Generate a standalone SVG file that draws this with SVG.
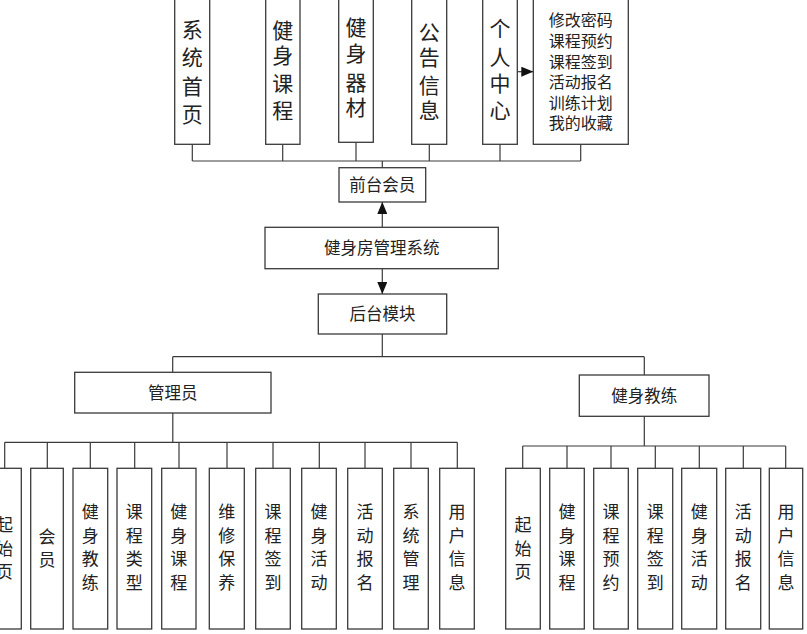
<svg xmlns="http://www.w3.org/2000/svg" width="807" height="634" viewBox="0 0 807 634">
<style>
.box{fill:#fff;stroke:#3a3a3a;stroke-width:1.3}
.ln{fill:none;stroke:#3a3a3a;stroke-width:1.2}
text{font-family:"Noto Sans CJK SC","Noto Sans",sans-serif;fill:#222;text-anchor:middle}
.big{font-size:21px}
.lst{font-size:16px}
.mid{font-size:16.5px}
.sm{font-size:17px}
</style>
<defs>
<marker id="ah" viewBox="0 0 12 10" refX="12" refY="5" markerWidth="12" markerHeight="10" markerUnits="userSpaceOnUse" orient="auto">
<path d="M0,0 L12,5 L0,10 Z" fill="#111"/>
</marker>
</defs>
<rect width="807" height="634" fill="#fff"/>

<g id="connectors">
<path class="ln" d="M192.3,144.3V161M282.7,144.3V161M356,142.3V161M429.3,144.3V161M500,144.3V161M580.7,144.3V161M192.3,161H580.7M382.3,161V167.7"/>
<path class="ln" d="M517.3,71.7H533.3" marker-end="url(#ah)"/>
<path class="ln" d="M382.3,227.3V202" marker-end="url(#ah)"/>
<path class="ln" d="M382.3,268.7V294" marker-end="url(#ah)"/>
<path class="ln" d="M382.3,334V356.7M172.7,356.7H644.3M172.7,356.7V372.3M644.3,356.7V375"/>
<path class="ln" d="M172.8,413V442.3M4.7,442.3H457.3M4.7,442.3V468.3M47.3,442.3V468.3M90.3,442.3V468.3M134.7,442.3V468.3M179,442.3V468.3M227,442.3V468.3M273,442.3V468.3M319.3,442.3V468.3M365,442.3V468.3M411,442.3V468.3M457.3,442.3V468.3"/>
<path class="ln" d="M644.3,416.3V446M522.7,446H785.7M522.7,446V468.3M567,446V468.3M611,446V468.3M655.3,446V468.3M699.3,446V468.3M743.3,446V468.3M785.7,446V468.3"/>
</g>

<g id="n-xtsy"><rect class="box" x="174.7" y="-10" width="35" height="154.3"/>
<text class="big"><tspan x="192.2" y="36.5">系</tspan><tspan x="192.2" y="65">统</tspan><tspan x="192.2" y="93.5">首</tspan><tspan x="192.2" y="122">页</tspan></text></g>
<g id="n-jskc"><rect class="box" x="265.7" y="-10" width="34.3" height="154.3"/>
<text class="big"><tspan x="282.8" y="37.5">健</tspan><tspan x="282.8" y="63">身</tspan><tspan x="282.8" y="90.5">课</tspan><tspan x="282.8" y="117.5">程</tspan></text></g>
<g id="n-jsqc"><rect class="box" x="338.7" y="-10" width="34.6" height="152.3"/>
<text class="big"><tspan x="356" y="34.5">健</tspan><tspan x="356" y="60.5">身</tspan><tspan x="356" y="89.5">器</tspan><tspan x="356" y="114.5">材</tspan></text></g>
<g id="n-ggxx"><rect class="box" x="411.7" y="-10" width="35" height="154.3"/>
<text class="big"><tspan x="429.2" y="39.5">公</tspan><tspan x="429.2" y="64.5">告</tspan><tspan x="429.2" y="92.5">信</tspan><tspan x="429.2" y="117.5">息</tspan></text></g>
<g id="n-grzx"><rect class="box" x="482.7" y="-10" width="34.6" height="154.3"/>
<text class="big"><tspan x="500" y="35.5">个</tspan><tspan x="500" y="64.5">人</tspan><tspan x="500" y="90.5">中</tspan><tspan x="500" y="117.5">心</tspan></text></g>
<g id="n-list"><rect class="box" x="533.3" y="-10" width="95" height="154.3"/>
<text class="lst"><tspan x="580.8" y="26">修改密码</tspan><tspan x="580.8" y="46.5">课程预约</tspan><tspan x="580.8" y="67.5">课程签到</tspan><tspan x="580.8" y="88">活动报名</tspan><tspan x="580.8" y="109">训练计划</tspan><tspan x="580.8" y="129">我的收藏</tspan></text></g>

<g id="n-qthy"><rect class="box" x="339" y="167.7" width="86.7" height="34.3"/><text class="mid" x="382.3" y="191">前台会员</text></g>
<g id="n-sys"><rect class="box" x="265" y="227.3" width="233.3" height="41.4"/><text class="mid" x="381.7" y="254">健身房管理系统</text></g>
<g id="n-htmk"><rect class="box" x="318.3" y="294" width="128.4" height="40"/><text class="mid" x="382.5" y="320">后台模块</text></g>
<g id="n-gly"><rect class="box" x="74.7" y="372.3" width="196.3" height="40.7"/><text class="mid" x="172.8" y="398.7">管理员</text></g>
<g id="n-jsjl"><rect class="box" x="579.3" y="375" width="129.7" height="41.3"/><text class="mid" x="644.2" y="401.7">健身教练</text></g>

<g id="a-qsy"><rect class="box" x="-12.5" y="468.3" width="33.8" height="160.7"/>
<text class="sm"><tspan x="4.4" y="531">起</tspan><tspan x="4.4" y="554.5">始</tspan><tspan x="4.4" y="578">页</tspan></text></g>
<g id="a-hy"><rect class="box" x="30.7" y="468.3" width="32.6" height="160.7"/>
<text class="sm"><tspan x="47" y="542.7">会</tspan><tspan x="47" y="566">员</tspan></text></g>
<g id="a-jsjl"><rect class="box" x="73" y="468.3" width="34.7" height="160.7"/>
<text class="sm"><tspan x="90.3" y="518">健</tspan><tspan x="90.3" y="541.7">身</tspan><tspan x="90.3" y="565.3">教</tspan><tspan x="90.3" y="589">练</tspan></text></g>
<g id="a-kclx"><rect class="box" x="117" y="468.3" width="34.7" height="160.7"/>
<text class="sm"><tspan x="134.3" y="518">课</tspan><tspan x="134.3" y="541.7">程</tspan><tspan x="134.3" y="565.3">类</tspan><tspan x="134.3" y="589">型</tspan></text></g>
<g id="a-jskc"><rect class="box" x="161.7" y="468.3" width="34.3" height="160.7"/>
<text class="sm"><tspan x="178.8" y="518">健</tspan><tspan x="178.8" y="541.7">身</tspan><tspan x="178.8" y="565.3">课</tspan><tspan x="178.8" y="589">程</tspan></text></g>
<g id="a-wxby"><rect class="box" x="209.3" y="468.3" width="35" height="160.7"/>
<text class="sm"><tspan x="226.8" y="518">维</tspan><tspan x="226.8" y="541.7">修</tspan><tspan x="226.8" y="565.3">保</tspan><tspan x="226.8" y="589">养</tspan></text></g>
<g id="a-kcqd"><rect class="box" x="255.7" y="468.3" width="34.6" height="160.7"/>
<text class="sm"><tspan x="273" y="518">课</tspan><tspan x="273" y="541.7">程</tspan><tspan x="273" y="565.3">签</tspan><tspan x="273" y="589">到</tspan></text></g>
<g id="a-jshd"><rect class="box" x="301.7" y="468.3" width="34.6" height="160.7"/>
<text class="sm"><tspan x="319" y="518">健</tspan><tspan x="319" y="541.7">身</tspan><tspan x="319" y="565.3">活</tspan><tspan x="319" y="589">动</tspan></text></g>
<g id="a-hdbm"><rect class="box" x="347.7" y="468.3" width="34.6" height="160.7"/>
<text class="sm"><tspan x="365" y="518">活</tspan><tspan x="365" y="541.7">动</tspan><tspan x="365" y="565.3">报</tspan><tspan x="365" y="589">名</tspan></text></g>
<g id="a-xtgl"><rect class="box" x="393.7" y="468.3" width="34.6" height="160.7"/>
<text class="sm"><tspan x="411" y="518">系</tspan><tspan x="411" y="541.7">统</tspan><tspan x="411" y="565.3">管</tspan><tspan x="411" y="589">理</tspan></text></g>
<g id="a-yhxx"><rect class="box" x="439.7" y="468.3" width="34.6" height="160.7"/>
<text class="sm"><tspan x="457" y="518">用</tspan><tspan x="457" y="541.7">户</tspan><tspan x="457" y="565.3">信</tspan><tspan x="457" y="589">息</tspan></text></g>

<g id="c-qsy"><rect class="box" x="505.7" y="468.3" width="34.6" height="160.7"/>
<text class="sm"><tspan x="523" y="531">起</tspan><tspan x="523" y="554.5">始</tspan><tspan x="523" y="578">页</tspan></text></g>
<g id="c-jskc"><rect class="box" x="549.7" y="468.3" width="34.6" height="160.7"/>
<text class="sm"><tspan x="567" y="518">健</tspan><tspan x="567" y="541.7">身</tspan><tspan x="567" y="565.3">课</tspan><tspan x="567" y="589">程</tspan></text></g>
<g id="c-kcyy"><rect class="box" x="593.7" y="468.3" width="34.6" height="160.7"/>
<text class="sm"><tspan x="611" y="518">课</tspan><tspan x="611" y="541.7">程</tspan><tspan x="611" y="565.3">预</tspan><tspan x="611" y="589">约</tspan></text></g>
<g id="c-kcqd"><rect class="box" x="637.7" y="468.3" width="35" height="160.7"/>
<text class="sm"><tspan x="655.2" y="518">课</tspan><tspan x="655.2" y="541.7">程</tspan><tspan x="655.2" y="565.3">签</tspan><tspan x="655.2" y="589">到</tspan></text></g>
<g id="c-jshd"><rect class="box" x="681.7" y="468.3" width="35" height="160.7"/>
<text class="sm"><tspan x="699.2" y="518">健</tspan><tspan x="699.2" y="541.7">身</tspan><tspan x="699.2" y="565.3">活</tspan><tspan x="699.2" y="589">动</tspan></text></g>
<g id="c-hdbm"><rect class="box" x="725.7" y="468.3" width="35" height="160.7"/>
<text class="sm"><tspan x="743.2" y="518">活</tspan><tspan x="743.2" y="541.7">动</tspan><tspan x="743.2" y="565.3">报</tspan><tspan x="743.2" y="589">名</tspan></text></g>
<g id="c-yhxx"><rect class="box" x="769.3" y="468.3" width="33.4" height="160.7"/>
<text class="sm"><tspan x="786" y="518">用</tspan><tspan x="786" y="541.7">户</tspan><tspan x="786" y="565.3">信</tspan><tspan x="786" y="589">息</tspan></text></g>
</svg>
